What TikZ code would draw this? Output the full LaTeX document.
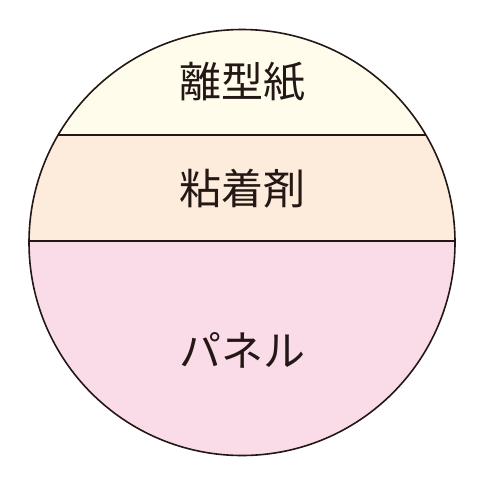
\documentclass[tikz,border=0pt]{standalone}
\usepackage{fontspec}
\newfontfamily\cjk{Noto Sans CJK JP}
\definecolor{ink}{HTML}{231815}
\definecolor{paper}{HTML}{FFFCEC}
\definecolor{glue}{HTML}{FDEBDB}
\definecolor{panel}{HTML}{FADCE9}
\tikzset{label/.style={font=\cjk\fontsize{42}{46}\selectfont, text=ink, inner sep=0pt}}
\begin{document}
\begin{tikzpicture}[x=1pt,y=-1pt]
\useasboundingbox (0,0) rectangle (500,493);
\coordinate (c) at (242,242.5);
\begin{scope}
\clip (c) circle (213);
\fill[paper] (0,0) rectangle (500,135);
\fill[glue] (0,135) rectangle (500,241);
\fill[panel] (0,241) rectangle (500,493);
\draw[ink, line width=1.6pt] (0,135) -- (500,135);
\draw[ink, line width=1.6pt] (0,241) -- (500,241);
\end{scope}
\draw[ink, line width=1.6pt] (c) circle (213);
\node[label] (a) at (242,82) {離型紙};
\node[label] (b) at (242,189) {粘着剤};
\node[label] (p) at (242,350) {パネル};
\end{tikzpicture}
\end{document}
